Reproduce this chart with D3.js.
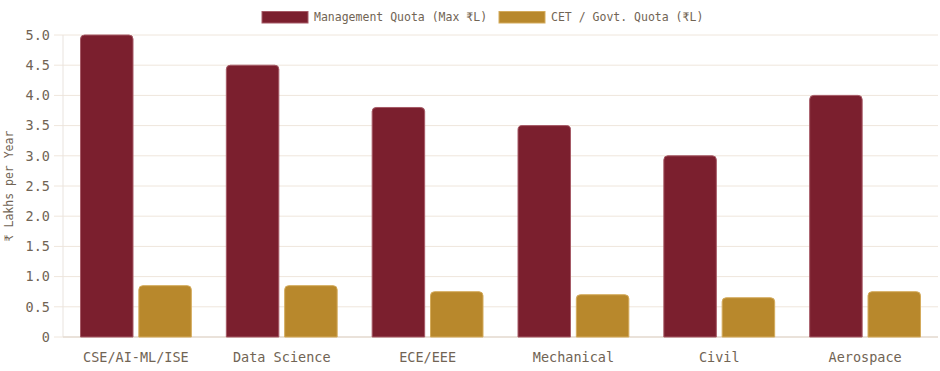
<!DOCTYPE html>
<html>
<head>
<meta charset="utf-8">
<script src="https://cdn.jsdelivr.net/npm/d3@7"></script>
<style>
  body { margin: 0; background: #fff; }
  text { font-family: "DejaVu Sans Mono", "Liberation Mono", monospace; fill: #716454; }
</style>
</head>
<body>
<div id="chart"></div>
<script>
// chart values
const categories = ["CSE/AI-ML/ISE", "Data Science", "ECE/EEE", "Mechanical", "Civil", "Aerospace"];
const seriesNames = ["Management Quota (Max ₹L)", "CET / Govt. Quota (₹L)"];
const managementQuota = [5.0, 4.5, 3.8, 3.5, 3.0, 4.0];
const cetQuota = [0.85, 0.85, 0.75, 0.7, 0.65, 0.75];
const yTicks = [0, 0.5, 1.0, 1.5, 2.0, 2.5, 3.0, 3.5, 4.0, 4.5, 5.0];

const colors = ["#7b1f2e", "#b8882c"];
const borders = ["#a65a66", "#d4ab5c"];

const width = 940, height = 371;
const margin = { top: 35, right: 2, bottom: 34, left: 63 };
const innerW = width - margin.left - margin.right;
const innerH = height - margin.top - margin.bottom;

const svg = d3.select("#chart").append("svg")
  .attr("width", width)
  .attr("height", height);

const chart = svg.append("g")
  .attr("transform", `translate(${margin.left},${margin.top})`);

// scales
const x0 = d3.scaleBand().domain(categories).range([0, innerW]).padding(0);
const bw = x0.bandwidth();
const x1 = d3.scaleBand().domain(seriesNames)
  .range([0.1 * bw, 0.9 * bw])
  .paddingInner(0.1)
  .paddingOuter(0.05);
const y = d3.scaleLinear().domain([0, 5]).range([innerH, 0]);

// grid lines
chart.append("g")
  .selectAll("line")
  .data(yTicks)
  .join("line")
  .attr("x1", -9)
  .attr("x2", innerW)
  .attr("y1", d => y(d))
  .attr("y2", d => y(d))
  .attr("stroke", "#efe6dc")
  .attr("stroke-width", 1);

// y axis line
chart.append("line")
  .attr("x1", 0).attr("x2", 0)
  .attr("y1", 0).attr("y2", innerH)
  .attr("stroke", "#e9e3de");

// bottom axis line
chart.append("line")
  .attr("x1", 0).attr("x2", innerW)
  .attr("y1", innerH).attr("y2", innerH)
  .attr("stroke", "#e6ddd3")
  .attr("stroke-width", 1.5);

// y tick labels
const yAxis = d3.axisLeft(y)
  .tickValues(yTicks)
  .tickSize(0)
  .tickPadding(13)
  .tickFormat(d => d === 0 ? "0" : d3.format(".1f")(d));
const yAxisG = chart.append("g").call(yAxis);
yAxisG.select(".domain").remove();
yAxisG.selectAll("text").style("font-size", "13.5px").style("fill", "#716454");

// x tick labels
const xAxis = d3.axisBottom(x0).tickSize(0).tickPadding(15);
const xAxisG = chart.append("g").attr("transform", `translate(0,${innerH})`).call(xAxis);
xAxisG.select(".domain").remove();
xAxisG.selectAll("text").style("font-size", "13.5px").style("fill", "#716454");

// y axis title
svg.append("text")
  .attr("transform", `translate(13,${margin.top + innerH / 2}) rotate(-90)`)
  .attr("text-anchor", "middle")
  .style("font-size", "11.5px")
  .text("₹ Lakhs per Year");

// bar path with rounded top corners
function topRounded(x, yTop, w, h, r) {
  r = Math.min(r, w / 2, h);
  return `M${x},${yTop + h}V${yTop + r}Q${x},${yTop} ${x + r},${yTop}` +
    `H${x + w - r}Q${x + w},${yTop} ${x + w},${yTop + r}V${yTop + h}Z`;
}

const seriesValues = [managementQuota, cetQuota];
const rows = [];
categories.forEach((c, i) => {
  seriesNames.forEach((s, j) => {
    rows.push({ cat: c, series: s, idx: j, value: seriesValues[j][i] });
  });
});

chart.append("g")
  .selectAll("path")
  .data(rows)
  .join("path")
  .attr("d", d => {
    const bx = x0(d.cat) + x1(d.series);
    const by = y(d.value);
    return topRounded(bx, by, x1.bandwidth(), innerH - by, 4);
  })
  .attr("fill", d => colors[d.idx])
  .attr("stroke", d => borders[d.idx])
  .attr("stroke-width", 1);

// legend
const legendItems = [
  { name: seriesNames[0], x: 262, textX: 314 },
  { name: seriesNames[1], x: 499, textX: 551 }
];
const legend = svg.append("g");
legendItems.forEach((d, i) => {
  legend.append("rect")
    .attr("x", d.x).attr("y", 11.5)
    .attr("width", 46).attr("height", 11.5)
    .attr("fill", colors[i])
    .attr("stroke", borders[i])
    .attr("stroke-width", 1);
  legend.append("text")
    .attr("x", d.textX).attr("y", 17.5)
    .attr("dominant-baseline", "middle")
    .style("font-size", "11.5px")
    .text(d.name);
});
</script>
</body>
</html>
